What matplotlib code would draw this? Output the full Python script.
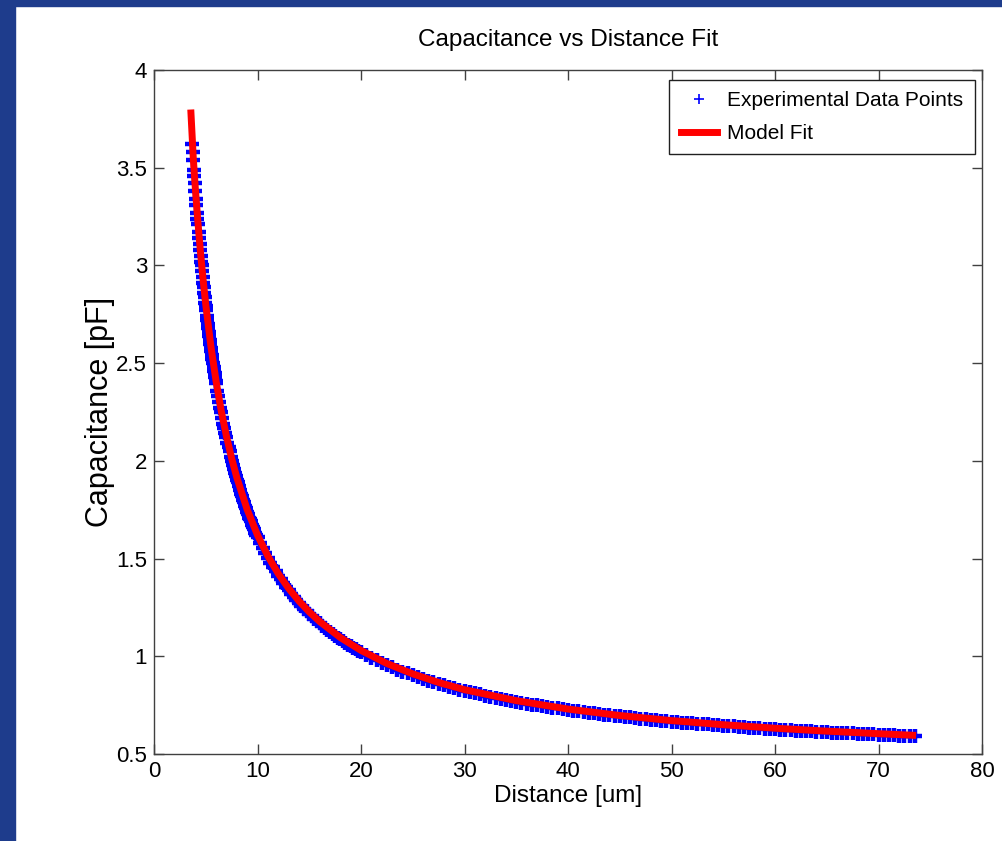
import matplotlib.pyplot as plt
from matplotlib.patches import Rectangle

# experimental readings (distance in um, capacitance in pF)
dist_exp = [3.70, 3.75, 3.80, 3.85, 3.90, 3.95, 4.00, 4.05, 4.10, 4.15, 4.20, 4.25,
            4.30, 4.35, 4.40, 4.45, 4.50, 4.55, 4.60, 4.65, 4.70, 4.75, 4.80, 4.85,
            4.90, 4.95, 5.00, 5.05, 5.10, 5.15, 5.20, 5.25, 5.30, 5.35, 5.40, 5.45,
            5.50, 5.55, 5.60, 5.65, 5.70, 5.75, 5.80, 5.85, 5.90, 5.95, 6.00,
            6.1, 6.2, 6.3, 6.4, 6.5, 6.6, 6.7, 6.8, 6.9, 7.0, 7.1, 7.2, 7.3, 7.4,
            7.5, 7.6, 7.7, 7.8, 7.9, 8.0, 8.1, 8.2, 8.3, 8.4, 8.5, 8.6, 8.7, 8.8,
            8.9, 9.0, 9.1, 9.2, 9.3, 9.4, 9.5, 9.6, 9.7, 9.8, 9.9, 10.0,
            10.25, 10.5, 10.75, 11.0, 11.25, 11.5, 11.75, 12.0, 12.25, 12.5, 12.75,
            13.0, 13.25, 13.5, 13.75, 14.0, 14.25, 14.5, 14.75, 15.0, 15.25, 15.5,
            15.75, 16.0, 16.25, 16.5, 16.75, 17.0, 17.25, 17.5, 17.75, 18.0, 18.25,
            18.5, 18.75, 19.0, 19.25, 19.5, 19.75, 20.0,
            20.5, 21.0, 21.5, 22.0, 22.5, 23.0, 23.5, 24.0, 24.5, 25.0, 25.5, 26.0,
            26.5, 27.0, 27.5, 28.0, 28.5, 29.0, 29.5, 30.0, 30.5, 31.0, 31.5, 32.0,
            32.5, 33.0, 33.5, 34.0, 34.5, 35.0, 35.5, 36.0, 36.5, 37.0, 37.5, 38.0,
            38.5, 39.0, 39.5, 40.0, 40.5, 41.0, 41.5, 42.0, 42.5, 43.0, 43.5, 44.0,
            44.5, 45.0, 45.5, 46.0, 46.5, 47.0, 47.5, 48.0, 48.5, 49.0, 49.5, 50.0,
            50.5, 51.0, 51.5, 52.0, 52.5, 53.0, 53.5, 54.0, 54.5, 55.0, 55.5, 56.0,
            56.5, 57.0, 57.5, 58.0, 58.5, 59.0, 59.5, 60.0, 60.5, 61.0, 61.5, 62.0,
            62.5, 63.0, 63.5, 64.0, 64.5, 65.0, 65.5, 66.0, 66.5, 67.0, 67.5, 68.0,
            68.5, 69.0, 69.5, 70.0, 70.5, 71.0, 71.5, 72.0, 72.5, 73.0, 73.5]
cap_exp = [3.62, 3.58, 3.54, 3.49, 3.46, 3.42, 3.38, 3.34, 3.31, 3.27, 3.24, 3.21,
           3.17, 3.14, 3.11, 3.08, 3.05, 3.02, 3.00, 2.97, 2.94, 2.91, 2.89, 2.86,
           2.84, 2.81, 2.79, 2.77, 2.74, 2.72, 2.70, 2.68, 2.66, 2.64, 2.62, 2.60,
           2.58, 2.56, 2.54, 2.52, 2.50, 2.48, 2.46, 2.45, 2.43, 2.41, 2.40,
           2.36, 2.33, 2.30, 2.27, 2.25, 2.22, 2.19, 2.17, 2.14, 2.12, 2.09, 2.07,
           2.05, 2.02, 2.00, 1.98, 1.96, 1.94, 1.92, 1.90, 1.89, 1.87, 1.85, 1.83,
           1.82, 1.80, 1.79, 1.77, 1.76, 1.74, 1.73, 1.71, 1.70, 1.69, 1.67, 1.66,
           1.65, 1.63, 1.62, 1.61,
           1.581, 1.554, 1.528, 1.503, 1.479, 1.456, 1.434, 1.413, 1.393, 1.374,
           1.356, 1.338, 1.321, 1.304, 1.288, 1.273, 1.258, 1.244, 1.230, 1.217,
           1.204, 1.191, 1.179, 1.168, 1.156, 1.145, 1.134, 1.124, 1.114, 1.104,
           1.095, 1.086, 1.077, 1.068, 1.059, 1.051, 1.043, 1.035, 1.027, 1.020,
           1.006, 0.992, 0.979, 0.966, 0.954, 0.943, 0.932, 0.922, 0.912, 0.902,
           0.893, 0.884, 0.875, 0.867, 0.859, 0.851, 0.844, 0.837, 0.830, 0.823,
           0.817, 0.811, 0.805, 0.799, 0.793, 0.788, 0.782, 0.777, 0.772, 0.767,
           0.762, 0.758, 0.753, 0.749, 0.745, 0.741, 0.737, 0.733, 0.729, 0.725,
           0.721, 0.718, 0.714, 0.711, 0.708, 0.704, 0.701, 0.698, 0.695, 0.692,
           0.689, 0.687, 0.684, 0.681, 0.678, 0.676, 0.673, 0.671, 0.668, 0.666,
           0.664, 0.661, 0.659, 0.657, 0.655, 0.653, 0.651, 0.649, 0.647, 0.645,
           0.643, 0.641, 0.639, 0.637, 0.635, 0.633, 0.632, 0.630, 0.628, 0.627,
           0.625, 0.623, 0.622, 0.620, 0.619, 0.617, 0.616, 0.614, 0.613, 0.612,
           0.610, 0.609, 0.607, 0.606, 0.605, 0.604, 0.602, 0.601, 0.600, 0.599,
           0.597, 0.596, 0.595, 0.594, 0.593, 0.592, 0.591]

# model fit curve
dist_fit = [3.57, 3.8, 4.0, 4.25, 4.5, 4.75, 5.0, 5.5, 6.0, 6.5, 7.0, 7.5, 8.0,
            9.0, 10.0, 11.0, 12.0, 13.0, 14.0, 15.0, 16.0, 18.0, 20.0, 22.5, 25.0,
            27.5, 30.0, 35.0, 40.0, 45.0, 50.0, 55.0, 60.0, 65.0, 70.0, 73.3]
cap_fit = [3.78, 3.545, 3.39, 3.217, 3.062, 2.924, 2.80, 2.585, 2.407, 2.255,
           2.126, 2.013, 1.915, 1.751, 1.62, 1.513, 1.423, 1.348, 1.283, 1.227,
           1.178, 1.096, 1.03, 0.963, 0.910, 0.866, 0.829, 0.773, 0.730, 0.697,
           0.671, 0.650, 0.632, 0.617, 0.604, 0.596]

xticks = [0, 10, 20, 30, 40, 50, 60, 70, 80]
yticks = [0.5, 1, 1.5, 2, 2.5, 3, 3.5, 4]
ytick_labels = ['0.5', '1', '1.5', '2', '2.5', '3', '3.5', '4']

plt.rcParams['font.family'] = ['Liberation Sans', 'DejaVu Sans']

fig = plt.figure(figsize=(10.03, 8.41), dpi=100)
fig.patch.set_facecolor('white')
# slide background peeking out at left and top
fig.patches.append(Rectangle((0, 0), 15/1003, 1, transform=fig.transFigure,
                             color='#1e3c8c', zorder=0))
fig.patches.append(Rectangle((0, 1 - 6/841), 1, 6/841, transform=fig.transFigure,
                             color='#1e3c8c', zorder=0))

ax = fig.add_axes([154/1003, 87/841, 828/1003, 684/841])

ax.plot(dist_exp, cap_exp, '+', color='#0000ff', markersize=10.5, markeredgewidth=3.2,
        label='Experimental Data Points', zorder=2)
ax.plot(dist_fit, cap_fit, '-', color='#ff0000', linewidth=5,
        label='Model Fit', zorder=3)

ax.set_xlim(0, 80)
ax.set_ylim(0.5, 4)
ax.set_xticks(xticks)
ax.set_yticks(yticks)
ax.set_yticklabels(ytick_labels)
ax.tick_params(direction='in', top=True, right=True, length=7, width=1,
               labelsize=16, pad=5, colors='#404040', labelcolor='black')
for s in ax.spines.values():
    s.set_color('#404040')
    s.set_linewidth(1)

ax.set_xlabel('Distance [um]', fontsize=17.5, labelpad=2)
ax.set_ylabel('Capacitance [pF]', fontsize=22, labelpad=1)
ax.set_title('Capacitance vs Distance Fit', fontsize=17.5, pad=17)

leg = ax.legend(loc='upper right', bbox_to_anchor=(0.9915, 0.9854), borderaxespad=0,
                fontsize=15, handlelength=1.75, handletextpad=0.5, borderpad=0.55,
                labelspacing=0.65, fancybox=False, framealpha=1, markerscale=0.75)
leg.get_frame().set_edgecolor('#202020')
leg.get_frame().set_linewidth(1)
leg.legend_handles[0].set_markeredgewidth(1.2)

fig.savefig('out.png', dpi=100, facecolor=fig.get_facecolor())
